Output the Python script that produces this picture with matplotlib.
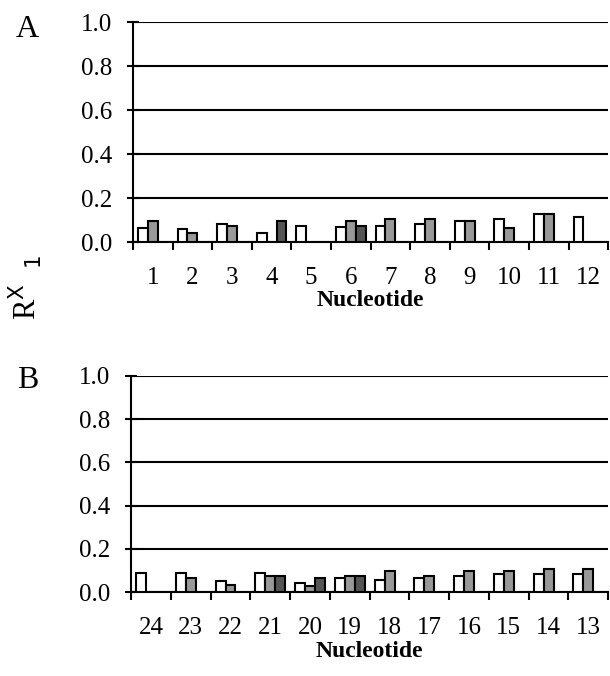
import matplotlib.pyplot as plt
import numpy as np

plt.rcParams['font.family'] = ['Liberation Serif', 'DejaVu Serif']

# panel A
labels_a = ['1', '2', '3', '4', '5', '6', '7', '8', '9', '10', '11', '12']
white_a = [0.062, 0.06, 0.083, 0.04, 0.073, 0.07, 0.073, 0.083, 0.094, 0.105, 0.128, 0.114]
light_a = [0.094, 0.04, 0.073, 0.0, 0.0, 0.094, 0.105, 0.105, 0.094, 0.062, 0.128, 0.0]
dark_a = [0.0, 0.0, 0.0, 0.094, 0.0, 0.073, 0.0, 0.0, 0.0, 0.0, 0.0, 0.0]

# panel B
labels_b = ['24', '23', '22', '21', '20', '19', '18', '17', '16', '15', '14', '13']
white_b = [0.087, 0.087, 0.053, 0.087, 0.043, 0.064, 0.054, 0.064, 0.074, 0.085, 0.085, 0.085]
light_b = [0.0, 0.064, 0.031, 0.076, 0.03, 0.074, 0.096, 0.076, 0.096, 0.096, 0.105, 0.105]
dark_b = [0.0, 0.0, 0.0, 0.076, 0.064, 0.074, 0.0, 0.0, 0.0, 0.0, 0.0, 0.0]

colors = ['white', '#999999', '#555555']

fig = plt.figure(figsize=(6.1, 6.76), dpi=100)
ax_a = fig.add_axes([0.218, 0.642, 0.779, 0.325])
ax_b = fig.add_axes([0.215, 0.124, 0.782, 0.320])


def draw(ax, labels, series):
    x = np.arange(1, len(labels) + 1)
    w = 0.25
    for k, vals in enumerate(series):
        v = np.array(vals)
        m = v > 0
        ax.bar(x[m] + (k - 1) * w, v[m], width=w, color=colors[k],
               edgecolor='black', linewidth=1.5, zorder=3)
    ax.set_xlim(0.5, len(labels) + 0.5)
    ax.set_ylim(0, 1.0)
    ax.set_yticks(np.arange(0, 1.01, 0.2))
    ax.set_yticklabels(['%.1f' % t for t in np.arange(0, 1.01, 0.2)])
    ax.yaxis.grid(True, color='black', linewidth=1.5)
    ax.set_axisbelow(True)
    ax.set_xticks(x)
    ax.set_xticklabels(labels)
    ax.set_xticks(np.arange(0.5, len(labels) + 1), minor=True)
    ax.tick_params(axis='x', which='major', length=0, labelsize=18, pad=18)
    ax.tick_params(axis='x', which='minor', length=6, width=1.5, direction='out')
    ax.tick_params(axis='y', length=8, width=1.5, direction='inout', labelsize=18, pad=11)
    for s in ['top', 'right']:
        ax.spines[s].set_visible(False)
    for s in ['left', 'bottom']:
        ax.spines[s].set_linewidth(1.5)
    ax.set_xlabel('Nucleotide', fontsize=17, fontweight='bold', labelpad=1)


draw(ax_a, labels_a, [white_a, light_a, dark_a])
draw(ax_b, labels_b, [white_b, light_b, dark_b])

fig.text(0.025, 0.957, 'A', fontsize=23, ha='left', va='center')
fig.text(0.028, 0.437, 'B', fontsize=23, ha='left', va='center')
fig.text(0.042, 0.575, r'R$^{\mathrm{X}}$  $_{1}$', fontsize=22, rotation=90,
         ha='center', va='center')

fig.savefig('out.png', dpi=100)
